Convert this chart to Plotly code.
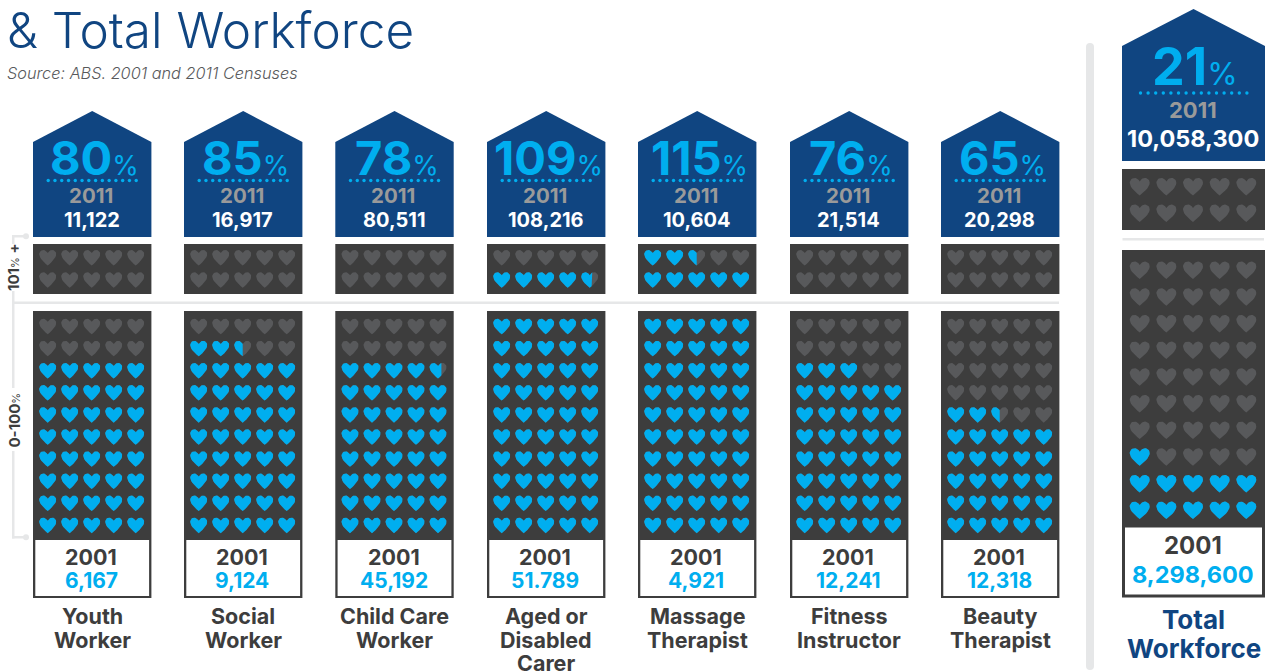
import numpy as np
import plotly.graph_objects as go

# ---------- data ----------
occupations = [["Youth", "Worker"], ["Social", "Worker"], ["Child Care", "Worker"],
               ["Aged or", "Disabled", "Carer"], ["Massage", "Therapist"],
               ["Fitness", "Instructor"], ["Beauty", "Therapist"]]
growth_pct = [80, 85, 78, 109, 115, 76, 65]
count_2011 = ["11,122", "16,917", "80,511", "108,216", "10,604", "21,514", "20,298"]
count_2001 = ["6,167", "9,124", "45,192", "51.789", "4,921", "12,241", "12,318"]
# hearts filled (50 hearts = 100%), as drawn in the picture
hearts_filled = [40, 42.5, 39.7, 54.65, 57.5, 38, 27.5]

total_name = ["Total", "Workforce"]
total_growth = 21
total_2011 = "10,058,300"
total_2001 = "8,298,600"
total_hearts = 11

# ---------- style ----------
NAVY = "#104581"; BLUE = "#00aeef"; DARK = "#3d3d3d"; HEARTG = "#58595b"
GREY = "#9a9a9a"; RULE = "#e6e7e8"
FONT = "Inter"


def bez(p0, p1, p2, p3, n=8):
    u = np.linspace(0, 1, n)[:, None]
    p0, p1, p2, p3 = map(np.array, (p0, p1, p2, p3))
    return (1 - u) ** 3 * p0 + 3 * (1 - u) ** 2 * u * p1 + 3 * (1 - u) * u ** 2 * p2 + u ** 3 * p3


_right = np.vstack([
    bez((0, -0.30), (0.06, -0.43), (0.17, -0.5), (0.26, -0.5)),
    bez((0.26, -0.5), (0.40, -0.5), (0.5, -0.38), (0.5, -0.22)),
    bez((0.5, -0.22), (0.5, 0.0), (0.27, 0.27), (0, 0.5)),
])
_left = _right[::-1] * np.array([-1, 1])
hx = np.concatenate([_right[:, 0], _left[:, 0]])
hy = np.concatenate([_right[:, 1], _left[:, 1]])


def heart(cx, cy, w, h, frac=1.0):
    x = np.minimum(hx, -0.5 + frac)
    return list(cx + x * w) + [None], list(cy + hy * h) + [None]


shapes = []
annos = []
grey_x, grey_y, blue_x, blue_y = [], [], [], []
dot_x, dot_y = [], []


def rect(x0, y0, x1, y1, fill):
    shapes.append(dict(type="rect", x0=x0, y0=y0, x1=x1, y1=y1, fillcolor=fill,
                       line=dict(width=0), layer="below"))


def text(x, y, s, size, color, weight=700, **kw):
    annos.append(dict(x=x, y=y, text=s, showarrow=False, xanchor=kw.pop("xanchor", "center"),
                      yanchor="middle", align=kw.pop("align", "center"),
                      font=dict(family=kw.pop("family", FONT), size=size, color=color, weight=weight,
                                style=kw.pop("style", "normal")), **kw))


def column(x0, x1, apex, shoulder, house_bot, top0, top1, low0, low1, box0, box1, box_in,
           top_rows, low_rows, hxs, hw, hh, filled):
    cx = (x0 + x1) / 2
    shapes.append(dict(type="path", layer="below", fillcolor=NAVY, line=dict(width=0),
                       path=f"M{x0},{house_bot} L{x0},{shoulder} L{cx},{apex} L{x1},{shoulder} L{x1},{house_bot} Z"))
    rect(x0, top0, x1, top1, DARK)
    rect(x0, low0, x1, low1, DARK)
    rect(x0 + box_in, box0, x1 - box_in, box1, "white")
    # hearts, filled from the bottom row upward, left to right
    rows = list(reversed(low_rows)) + list(reversed(top_rows))
    left = filled
    for ry in rows:
        for hxc in hxs:
            gx, gy = heart(hxc, ry, hw, hh)
            grey_x.extend(gx); grey_y.extend(gy)
            f = min(left, 1.0)
            if f > 0:
                bx, by = heart(hxc, ry, hw, hh, f)
                blue_x.extend(bx); blue_y.extend(by)
            left -= 1
    return cx


col_x0 = [33, 184, 335.3, 487, 638, 790, 941]
for i, x0 in enumerate(col_x0):
    x1 = x0 + 118.4
    hxs = [x0 + 14.7 + 22 * k for k in range(5)]
    cx = column(x0, x1, 111, 142, 237, 244, 294, 311, 598, 540, 596, 2.3,
                [257.7, 280], [326.5 + 22.1 * k for k in range(10)], hxs, 17, 15.5,
                hearts_filled[i])
    text(cx + 2, 157.5, f'{growth_pct[i]}<span style="font-size:27px;font-weight:400">%</span>', 47, BLUE, 700)
    dot_x.extend(list(np.arange(14) * 6.77 + cx - 44)); dot_y.extend([180.5] * 14)
    text(cx - 1.5, 195.5, "2011", 20.5, GREY, 700)
    text(cx - 0.5, 219.5, count_2011[i], 20, "white", 700)
    text(cx - 1, 556.5, "2001", 21.5, DARK, 700)
    text(cx - 1, 580.5, count_2001[i], 21, BLUE, 700)
    for k, line in enumerate(occupations[i]):
        text(cx, 616 + 23.7 * k, line, 21.5, DARK, 700)

# total column
tx0, tx1 = 1122, 1265
thxs = [1139.7 + 26.65 * k for k in range(5)]
tcx = column(tx0, tx1, 9, 46, 161, 169, 230, 250, 597.5, 527.5, 594.5, 3,
             [186.7, 213.3], [270.3 + 26.67 * k for k in range(10)], thxs, 20, 17.5,
             total_hearts)
text(tcx + 1.5, 66.5, f'{total_growth}<span style="font-size:31px;font-weight:400">%</span>', 52, BLUE, 700)
dot_x.extend(list(np.arange(15) * 7.6 + tcx - 53)); dot_y.extend([93] * 15)
text(tcx - 0.5, 109.5, "2011", 22, GREY, 700)
text(tcx - 0.5, 138.5, total_2011, 23.5, "white", 700)
text(tcx - 1, 545.5, "2001", 24, DARK, 700)
text(tcx - 1, 574.5, total_2001, 23.5, BLUE, 700)
for k, line in enumerate(total_name):
    text(tcx, 619 + 29 * k, line, 26, NAVY, 700)

# rules and brackets
rect(13, 301.5, 1059, 304, RULE)
rect(1122.5, 238, 1264, 240.5, RULE)
shapes.append(dict(type="line", x0=1090, x1=1090, y0=47, y1=666, layer="below",
                   line=dict(color=RULE, width=8)))
for cy in (47, 666):
    shapes.append(dict(type="circle", x0=1086, x1=1094, y0=cy - 4, y1=cy + 4, layer="below",
                       fillcolor=RULE, line=dict(width=0)))
rect(12, 235, 14.5, 244, RULE)
rect(12, 291, 14.5, 388, RULE)
rect(12, 451, 14.5, 538.5, RULE)
rect(12, 235, 26, 237.5, RULE)
rect(12, 536, 26, 538.5, RULE)
for cy in (236.3, 537.3):
    shapes.append(dict(type="circle", x0=23, x1=29, y0=cy - 3, y1=cy + 3, layer="below",
                       fillcolor=RULE, line=dict(width=0)))
text(13.5, 267.5, '101<span style="font-size:11px;font-weight:400">%</span> +', 15, DARK, 700, textangle=-90)
text(13.5, 420, '0-100<span style="font-size:11px;font-weight:400">%</span>', 15, DARK, 700, textangle=-90)

# heading
text(4.5, 30, "& Total Workforce", 49.5, NAVY, 300, xanchor="left", align="left")
text(5, 73, "Source: ABS. 2001 and 2011 Censuses", 16.3, "#58595b", 300, xanchor="left", align="left", style="italic")

fig = go.Figure()
fig.add_trace(go.Scatter(x=grey_x, y=grey_y, mode="lines", fill="toself", fillcolor=HEARTG,
                         line=dict(width=0, color=HEARTG), hoverinfo="skip"))
fig.add_trace(go.Scatter(x=blue_x, y=blue_y, mode="lines", fill="toself", fillcolor=BLUE,
                         line=dict(width=0, color=BLUE), hoverinfo="skip"))
fig.add_trace(go.Scatter(x=dot_x, y=dot_y, mode="markers", marker=dict(size=3.4, color=BLUE), hoverinfo="skip"))
fig.update_layout(
    width=1269, height=671, autosize=False, margin=dict(l=0, r=0, t=0, b=0), showlegend=False,
    paper_bgcolor="white", plot_bgcolor="white", shapes=shapes, annotations=annos,
    xaxis=dict(range=[0, 1269], visible=False, fixedrange=True),
    yaxis=dict(range=[671, 0], visible=False, fixedrange=True),
)
fig.write_html("out.html", config=dict(displayModeBar=False),
               post_script="document.body.style.margin='0';document.body.style.overflow='hidden';")
